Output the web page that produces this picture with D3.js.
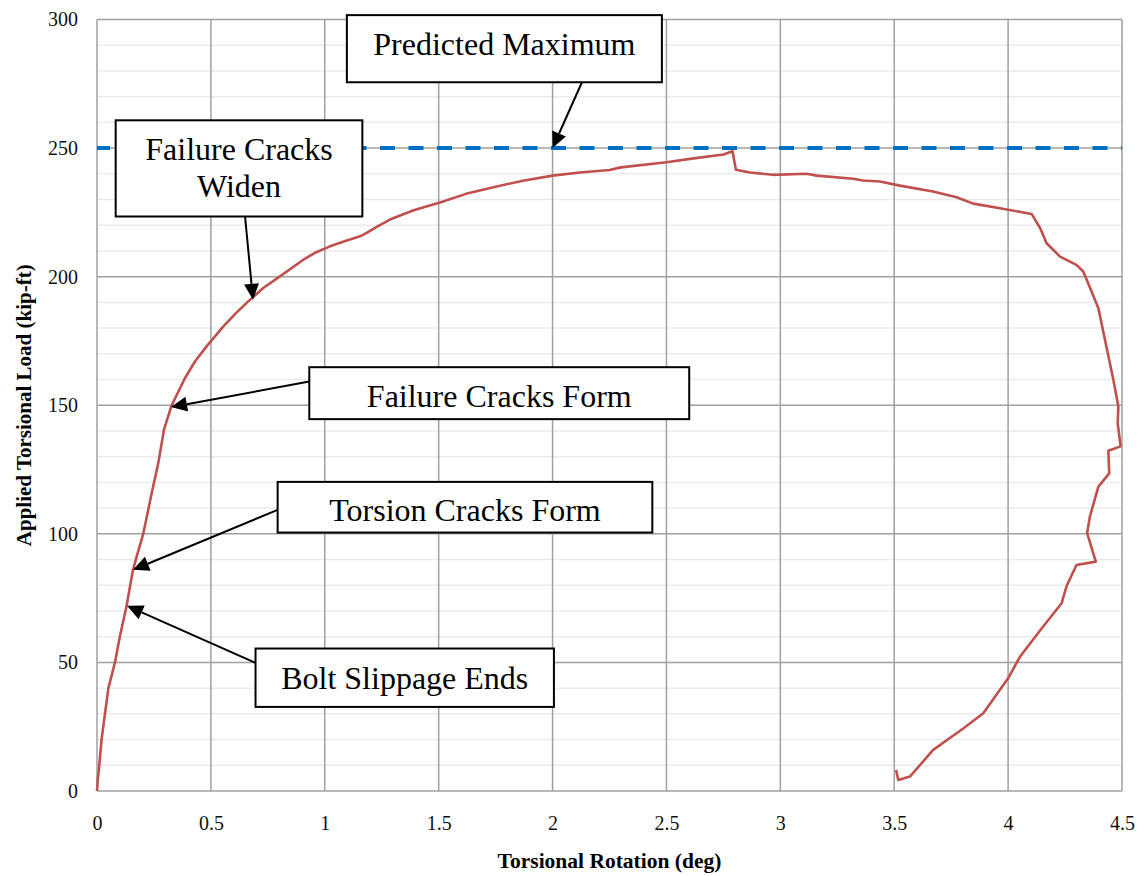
<!DOCTYPE html>
<html>
<head>
<meta charset="utf-8">
<script src="https://cdn.jsdelivr.net/npm/d3@7"></script>
<style>
  html, body { margin: 0; padding: 0; background: #fff; }
  svg { display: block; }
  text { font-family: "Liberation Serif", "Times New Roman", serif; }
</style>
</head>
<body>
<svg id="chart" width="1138" height="876"></svg>
<script>
// Torsion test: applied load vs. rotation
const rotation = [0, 0.004, 0.009, 0.02, 0.035, 0.05, 0.079, 0.1, 0.13, 0.158, 0.18, 0.203, 0.237, 0.269,
  0.294, 0.31, 0.328, 0.35, 0.386, 0.43, 0.481, 0.52, 0.554, 0.61, 0.664, 0.73, 0.803, 0.906, 0.96, 1.023,
  1.09, 1.155, 1.184, 1.23, 1.286, 1.39, 1.506, 1.62, 1.75, 1.87, 2.0, 2.12, 2.25, 2.3, 2.5, 2.62, 2.75,
  2.79, 2.805, 2.867, 2.968, 3.115, 3.16, 3.32, 3.363, 3.437, 3.525, 3.67, 3.774, 3.847, 3.964, 4.103,
  4.14, 4.169, 4.228, 4.3, 4.33, 4.396, 4.462, 4.484, 4.481, 4.494, 4.44, 4.444, 4.396, 4.359, 4.347, 4.385,
  4.3, 4.256, 4.235, 4.147, 4.052, 4.0, 3.891, 3.803, 3.671, 3.569, 3.518, 3.508];
const load = [0, 5, 9, 20, 30, 40, 50, 60, 72, 86, 93, 100, 114.5, 127.5,
  140.5, 145, 150, 154, 160.5, 167, 172.9, 177, 180.6, 185.8, 190.4, 195.6, 200.1, 206.6, 209.4, 211.8,
  213.9, 215.7, 217, 219.5, 222.2, 225.8, 228.8, 232.2, 235, 237.3, 239.3, 240.5, 241.5, 242.5, 244.5, 246, 247.5,
  248.8, 241.6, 240.5, 239.6, 240, 239.3, 238.1, 237.4, 237, 235.4, 233.1, 230.9, 228.4, 226.6, 224.4,
  219, 213, 207.8, 204.6, 202, 187.8, 159.9, 149.5, 143, 134, 132.3, 123.5, 118.3, 106.7, 100.3, 89.2,
  87.9, 79.5, 73, 63.2, 52.2, 43.8, 30.2, 24.3, 16, 5.6, 4.3, 8.2];

const predictedMaximum = 250;

const xTicks = [0, 0.5, 1, 1.5, 2, 2.5, 3, 3.5, 4, 4.5];
const xTickLabels = ["0", "0.5", "1", "1.5", "2", "2.5", "3", "3.5", "4", "4.5"];
const yTicks = [0, 50, 100, 150, 200, 250, 300];
const yTickLabels = ["0", "50", "100", "150", "200", "250", "300"];
const yMinorTicks = d3.range(10, 300, 10).filter(v => v % 50 !== 0);

// Callouts: text and the [rotation, load] point each arrow indicates
const calloutText = [["Predicted Maximum"], ["Failure Cracks", "Widen"], ["Failure Cracks Form"],
  ["Torsion Cracks Form"], ["Bolt Slippage Ends"]];
const calloutTarget = [[2.0, 250], [0.685, 191], [0.325, 149.3], [0.158, 86], [0.132, 72]];

// Callout layout in axis units: box [x0, x1, yTop, yBottom], arrow tail, text baselines
const calloutLayout = [
  { box: [1.097, 2.48, 301.7, 275.6], tail: [2.129, 275.6], base: [286.2] },
  { box: [0.082, 1.165, 260.8, 223.4], tail: [0.65, 223.4], base: [245.4, 231.1] },
  { box: [0.932, 2.6, 164.8, 144.6], tail: [0.932, 159.2], base: [149.4] },
  { box: [0.793, 2.438, 120.2, 100.5], tail: [0.793, 109.3], base: [105.0] },
  { box: [0.696, 2.006, 55.4, 32.7], tail: [0.696, 49.8], base: [39.7] }
];

const svg = d3.select("#chart");
const plot = { left: 97, right: 1122, top: 19.5, bottom: 791 };

const x = d3.scaleLinear().domain([0, 4.5]).range([plot.left, plot.right]);
const y = d3.scaleLinear().domain([0, 300]).range([plot.bottom, plot.top]);

// Minor horizontal gridlines
svg.append("g").selectAll("line").data(yMinorTicks).join("line")
  .attr("x1", plot.left).attr("x2", plot.right)
  .attr("y1", d => y(d)).attr("y2", d => y(d))
  .attr("stroke", "#ebebeb").attr("stroke-width", 1.5);

// Major gridlines
svg.append("g").selectAll("line").data(yTicks).join("line")
  .attr("x1", plot.left).attr("x2", plot.right)
  .attr("y1", d => y(d)).attr("y2", d => y(d))
  .attr("stroke", "#a0a0a0").attr("stroke-width", 1.5);
svg.append("g").selectAll("line").data(xTicks).join("line")
  .attr("x1", d => x(d)).attr("x2", d => x(d))
  .attr("y1", plot.top).attr("y2", plot.bottom)
  .attr("stroke", "#a0a0a0").attr("stroke-width", 1.5);

// Axes (labels only; frame comes from the grid)
const xAxis = svg.append("g").attr("transform", `translate(0,${plot.bottom})`)
  .call(d3.axisBottom(x).tickValues(xTicks).tickSize(0).tickPadding(25)
    .tickFormat((d, i) => xTickLabels[i]));
const yAxis = svg.append("g").attr("transform", `translate(${plot.left},0)`)
  .call(d3.axisLeft(y).tickValues(yTicks).tickSize(0).tickPadding(19)
    .tickFormat((d, i) => yTickLabels[i]));
[xAxis, yAxis].forEach(a => {
  a.select(".domain").remove();
  a.selectAll("text").attr("font-family", "Liberation Serif").attr("font-size", 20).attr("fill", "#111");
});

// Axis titles
svg.append("text")
  .attr("x", (plot.left + plot.right) / 2).attr("y", 868)
  .attr("text-anchor", "middle").attr("font-weight", "bold").attr("font-size", 21.5)
  .text("Torsional Rotation (deg)");
svg.append("text")
  .attr("transform", `translate(31,${(plot.top + plot.bottom) / 2}) rotate(-90)`)
  .attr("text-anchor", "middle").attr("font-weight", "bold").attr("font-size", 21)
  .text("Applied Torsional Load (kip-ft)");

// Predicted maximum line
svg.append("line")
  .attr("x1", x(0)).attr("x2", x(4.5))
  .attr("y1", y(predictedMaximum)).attr("y2", y(predictedMaximum))
  .attr("stroke", "#0070C0").attr("stroke-width", 4)
  .attr("stroke-dasharray", "15,13.5").attr("stroke-dashoffset", 2);

// Load–rotation curve
const pts = rotation.map((r, i) => [r, load[i]]);
svg.append("path").datum(pts)
  .attr("fill", "none").attr("stroke", "#C0504D").attr("stroke-width", 2.6)
  .attr("stroke-linejoin", "round")
  .attr("d", d3.line().x(d => x(d[0])).y(d => y(d[1])));

// Callouts
const cg = svg.append("g");
calloutLayout.forEach((c, i) => {
  const [bx0, bx1, byT, byB] = c.box;
  cg.append("rect")
    .attr("x", x(bx0)).attr("y", y(byT))
    .attr("width", x(bx1) - x(bx0)).attr("height", y(byB) - y(byT))
    .attr("fill", "#fff").attr("stroke", "#000").attr("stroke-width", 2);
  calloutText[i].forEach((line, j) => {
    cg.append("text")
      .attr("x", (x(bx0) + x(bx1)) / 2).attr("y", y(c.base[j]))
      .attr("text-anchor", "middle").attr("font-size", 32).attr("fill", "#000")
      .text(line);
  });
  // arrow from box to target point
  const tx = x(c.tail[0]), ty = y(c.tail[1]);
  const px = x(calloutTarget[i][0]), py = y(calloutTarget[i][1]);
  const ang = Math.atan2(py - ty, px - tx);
  const L = 16, W = 7.5;
  const bxp = px - L * Math.cos(ang), byp = py - L * Math.sin(ang);
  cg.append("line")
    .attr("x1", tx).attr("y1", ty).attr("x2", bxp).attr("y2", byp)
    .attr("stroke", "#000").attr("stroke-width", 2);
  const p1 = [bxp + W * Math.sin(ang), byp - W * Math.cos(ang)];
  const p2 = [bxp - W * Math.sin(ang), byp + W * Math.cos(ang)];
  cg.append("path")
    .attr("d", `M${px},${py}L${p1[0]},${p1[1]}L${p2[0]},${p2[1]}Z`)
    .attr("fill", "#000");
});
</script>
</body>
</html>
